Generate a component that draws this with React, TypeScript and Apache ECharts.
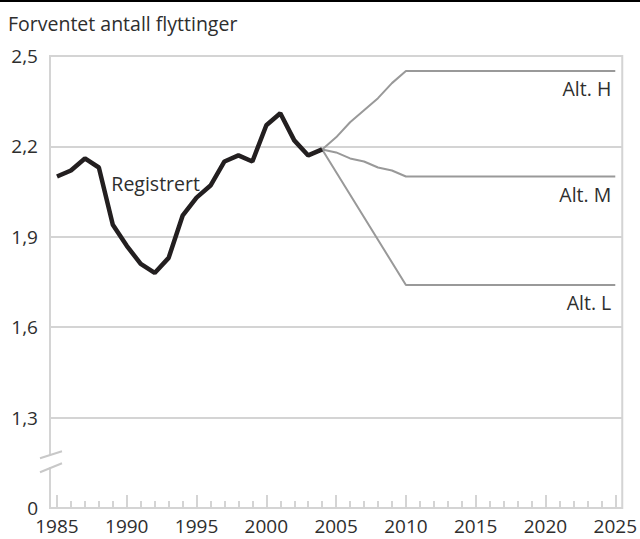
import React, { useEffect, useRef } from 'react';
import * as echarts from 'echarts';

const titleText = 'Forventet antall flyttinger';

const regYears = [1985, 1986, 1987, 1988, 1989, 1990, 1991, 1992, 1993, 1994, 1995, 1996, 1997, 1998, 1999, 2000, 2001, 2002, 2003, 2004];
const regValues = [2.10, 2.12, 2.16, 2.13, 1.94, 1.87, 1.81, 1.78, 1.83, 1.97, 2.03, 2.07, 2.15, 2.17, 2.15, 2.27, 2.31, 2.22, 2.17, 2.19];

const altHYears = [2004, 2005, 2006, 2007, 2008, 2009, 2010, 2025];
const altHValues = [2.19, 2.23, 2.28, 2.32, 2.36, 2.41, 2.45, 2.45];

const altMYears = [2004, 2005, 2006, 2007, 2008, 2009, 2010, 2025];
const altMValues = [2.19, 2.18, 2.16, 2.15, 2.13, 2.12, 2.10, 2.10];

const altLYears = [2004, 2010, 2025];
const altLValues = [2.19, 1.74, 1.74];

const majorTicks = [1985, 1990, 1995, 2000, 2005, 2010, 2015, 2020, 2025];
const minorTicks = [1986, 1987, 1988, 1989, 1991, 1992, 1993, 1994, 1996, 1997, 1998, 1999, 2001, 2002, 2003, 2004, 2006, 2007, 2008, 2009, 2011, 2012, 2013, 2014, 2016, 2017, 2018, 2019, 2021, 2022, 2023, 2024];

const FONT = 'Open Sans';
const FS = 19.5;
const AXFS = 19;
const TEXT = '#2e2e2e';
const GRID = '#d4d4d4';
const ALT = '#999999';

function pairs(xs: number[], ys: number[]) {
  return xs.map((x, i) => [x, ys[i]]);
}

function altSeries(name: string, xs: number[], ys: number[], label: string) {
  const data: any[] = pairs(xs, ys).map((v, i) =>
    i === xs.length - 1
      ? {
          value: v,
          label: {
            show: true,
            formatter: label,
            position: 'bottom',
            align: 'right',
            distance: 7,
            offset: [-4, 0],
            fontFamily: FONT,
            fontSize: FS,
            color: TEXT,
          },
        }
      : { value: v }
  );
  return {
    name,
    type: 'line',
    xAxisIndex: 0,
    data,
    showSymbol: true,
    symbol: 'circle',
    symbolSize: 1,
    itemStyle: { color: 'rgba(0,0,0,0)' },
    lineStyle: { color: ALT, width: 2 },
    label: { show: false },
    emphasis: { disabled: true },
    z: 2,
  };
}

export default function App() {
  const ref = useRef<HTMLDivElement>(null);
  useEffect(() => {
    if (!ref.current) return;
    const chart = echarts.init(ref.current, undefined, { renderer: 'svg' });
    const regData: any[] = pairs(regYears, regValues).map((v, i) =>
      regYears[i] === 1988
        ? {
            value: v,
            label: {
              show: true,
              formatter: 'Registrert',
              position: 'right',
              distance: 12,
              offset: [0, 16],
              fontFamily: FONT,
              fontSize: FS,
              color: TEXT,
            },
          }
        : { value: v }
    );
    chart.setOption({
      animation: false,
      backgroundColor: '#ffffff',
      title: {
        text: titleText,
        left: 8,
        top: 13,
        padding: 0,
        textStyle: { fontFamily: FONT, fontSize: FS, fontWeight: 'normal', color: TEXT },
      },
      grid: {
        left: 50,
        right: 16,
        top: 56,
        bottom: 31,
        show: true,
        borderColor: GRID,
        borderWidth: 2,
        backgroundColor: 'transparent',
        containLabel: false,
      },
      xAxis: [
        {
          type: 'value',
          min: 1984.5,
          max: 2025.5,
          position: 'bottom',
          axisLine: { show: false, onZero: false },
          splitLine: { show: false },
          axisTick: {
            show: true,
            inside: true,
            length: 13,
            customValues: majorTicks,
            lineStyle: { color: GRID, width: 2 },
          },
          axisLabel: {
            customValues: majorTicks,
            formatter: (v: number) => String(Math.round(v)),
            fontFamily: FONT,
            fontSize: AXFS,
            color: TEXT,
            margin: 8,
          },
        },
        {
          type: 'value',
          min: 1984.5,
          max: 2025.5,
          position: 'bottom',
          axisLine: { show: false, onZero: false },
          splitLine: { show: false },
          axisTick: {
            show: true,
            inside: true,
            length: 7,
            customValues: minorTicks,
            lineStyle: { color: GRID, width: 2 },
          },
          axisLabel: { show: false },
        },
      ],
      yAxis: {
        type: 'value',
        min: 1.0,
        max: 2.5,
        interval: 0.3,
        axisLine: { show: false },
        axisTick: { show: false },
        splitLine: { show: true, lineStyle: { color: GRID, width: 2 } },
        axisLabel: {
          formatter: (v: number) => (v < 1.05 ? '0' : v.toFixed(1).replace('.', ',')),
          fontFamily: FONT,
          fontSize: AXFS,
          color: TEXT,
          margin: 12,
        },
      },
      series: [
        altSeries('Alt. H', altHYears, altHValues, 'Alt. H'),
        altSeries('Alt. M', altMYears, altMValues, 'Alt. M'),
        altSeries('Alt. L', altLYears, altLValues, 'Alt. L'),
        {
          name: 'Registrert',
          type: 'line',
          xAxisIndex: 0,
          data: regData,
          showSymbol: true,
          symbol: 'circle',
          symbolSize: 1,
          itemStyle: { color: 'rgba(0,0,0,0)' },
          lineStyle: { color: '#231f20', width: 4.5 },
          label: { show: false },
          emphasis: { disabled: true },
          z: 3,
        },
      ],
    });
    const c = chart.convertToPixel({ gridIndex: 0 }, [1984.5, 1.155]) as number[];
    const cx = c[0];
    const cy = c[1];
    chart.setOption({
      graphic: [
        {
          type: 'rect',
          z: 100,
          shape: { x: 0, y: 0, width: 640, height: 2 },
          style: { fill: '#000000' },
        },
        {
          type: 'rect',
          z: 100,
          shape: { x: cx - 4, y: cy - 6, width: 8, height: 12 },
          style: { fill: '#ffffff' },
        },
        {
          type: 'line',
          z: 101,
          shape: { x1: cx - 10, y1: cy - 3, x2: cx + 12, y2: cy - 10 },
          style: { stroke: '#c8c8c8', lineWidth: 2 },
        },
        {
          type: 'line',
          z: 101,
          shape: { x1: cx - 10, y1: cy + 11, x2: cx + 12, y2: cy + 2 },
          style: { stroke: '#c8c8c8', lineWidth: 2 },
        },
      ],
    });
    return () => chart.dispose();
  }, []);
  return <div ref={ref} style={{ position: 'fixed', left: 0, top: 0, width: 640, height: 539 }} />;
}
